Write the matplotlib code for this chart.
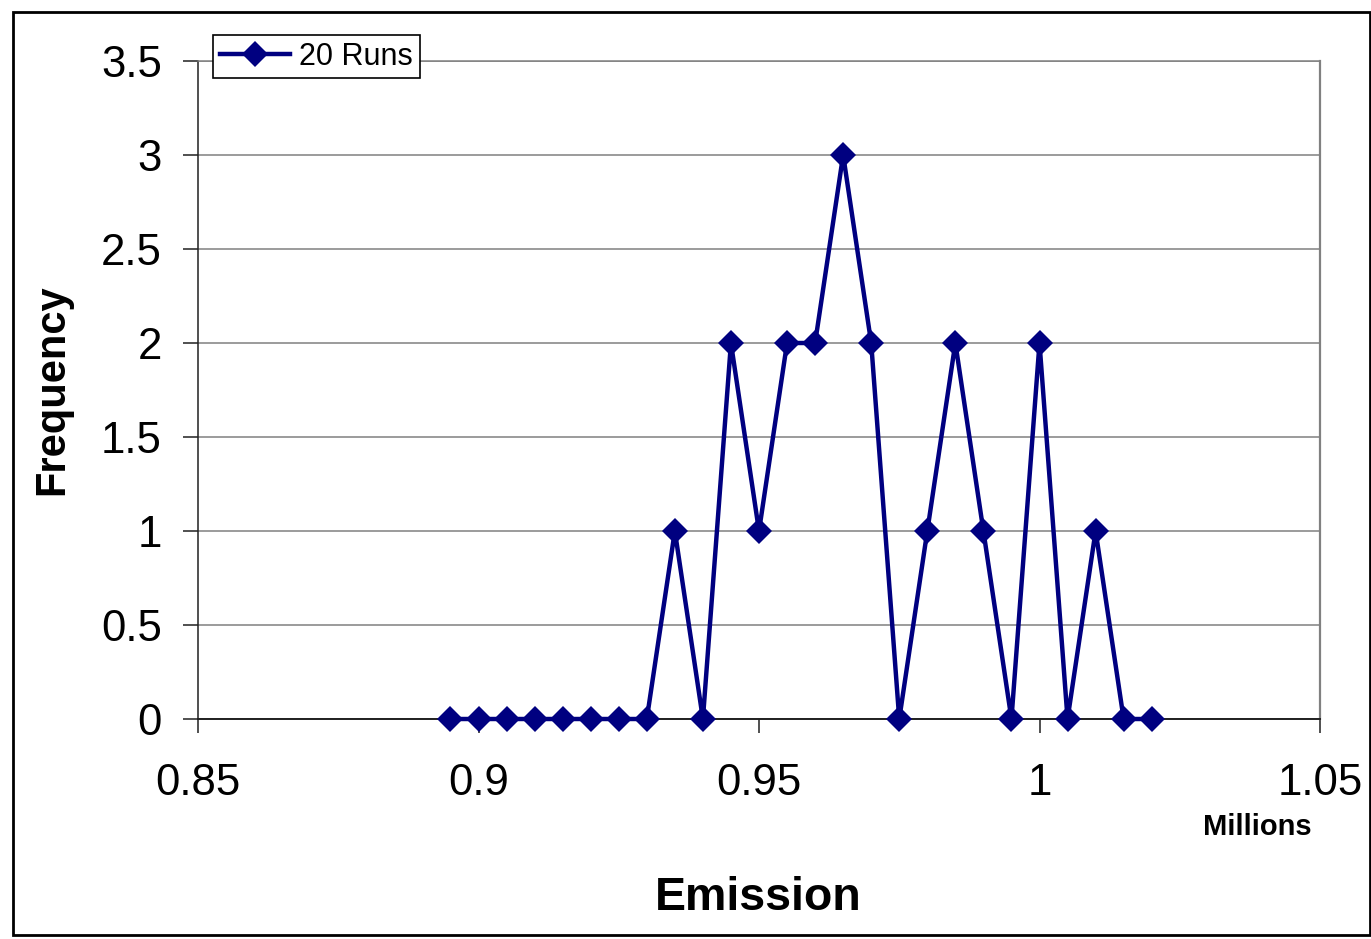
import matplotlib
matplotlib.use("Agg")
import matplotlib.pyplot as plt
from matplotlib.patches import Rectangle

emission = [0.895, 0.900, 0.905, 0.910, 0.915, 0.920, 0.925, 0.930, 0.935, 0.940,
            0.945, 0.950, 0.955, 0.960, 0.965, 0.970, 0.975, 0.980, 0.985, 0.990,
            0.995, 1.000, 1.005, 1.010, 1.015, 1.020]
frequency = [0, 0, 0, 0, 0, 0, 0, 0, 1, 0,
             2, 1, 2, 2, 3, 2, 0, 1, 2, 1,
             0, 2, 0, 1, 0, 0]
xticks = [0.85, 0.9, 0.95, 1.0, 1.05]
xticklabels = ["0.85", "0.9", "0.95", "1", "1.05"]
yticks = [0, 0.5, 1, 1.5, 2, 2.5, 3, 3.5]
yticklabels = ["0", "0.5", "1", "1.5", "2", "2.5", "3", "3.5"]
series_name = "20 Runs"

plt.rcParams['font.family'] = ['Liberation Sans', 'DejaVu Sans']

W, H = 1371, 939
fig = plt.figure(figsize=(W / 100, H / 100), dpi=100)
ax = fig.add_axes([198 / W, (H - 719) / H, (1320 - 198) / W, (719 - 61) / H])

navy = '#000080'
ax.plot(emission, frequency, color=navy, lw=3.2, marker='D', ms=13,
        markeredgewidth=0, label=series_name, zorder=3, clip_on=False)

ax.set_xlim(0.85, 1.05)
ax.set_ylim(0, 3.5)
ax.set_xticks(xticks)
ax.set_xticklabels(xticklabels)
ax.set_yticks(yticks)
ax.set_yticklabels(yticklabels)

ax.grid(axis='y', color='#808080', lw=1.1)
ax.set_axisbelow(True)
ax.spines['top'].set_color('#808080')
ax.spines['right'].set_color('#808080')
ax.spines['top'].set_linewidth(1.1)
ax.spines['right'].set_linewidth(1.6)
ax.spines['left'].set_color('#202020')
ax.spines['bottom'].set_color('#202020')
ax.spines['left'].set_linewidth(1.1)
ax.spines['bottom'].set_linewidth(1.4)

ax.tick_params(axis='y', direction='out', length=11, width=1.1, color='#202020',
               labelsize=31.5, pad=15)
ax.tick_params(axis='x', direction='out', length=10, width=1.1, color='#202020',
               labelsize=31.5, pad=22)

fig.text(758 / W, 1 - 898 / H, "Emission", fontsize=33.5, fontweight='bold',
         ha='center', va='center')
fig.text(52 / W, 1 - 390 / H, "Frequency", fontsize=30, fontweight='bold',
         ha='center', va='center', rotation=90)
fig.text(1257 / W, 1 - 827 / H, "Millions", fontsize=21, fontweight='bold',
         ha='center', va='center')

leg = ax.legend(loc='upper left', bbox_to_anchor=(213 / W, 1 - 35 / H),
                bbox_transform=fig.transFigure, borderaxespad=0,
                fancybox=False, edgecolor='black', framealpha=1,
                fontsize=22, handlelength=2.3, handletextpad=0.3,
                borderpad=0.22, markerscale=1.0)
leg.get_frame().set_linewidth(1.2)

fig.patches.append(Rectangle((13 / W, 1 - 935 / H), (1370 - 13) / W, (935 - 12) / H,
                             transform=fig.transFigure, fill=False,
                             edgecolor='black', lw=2))

fig.savefig("out.png", dpi=100)
